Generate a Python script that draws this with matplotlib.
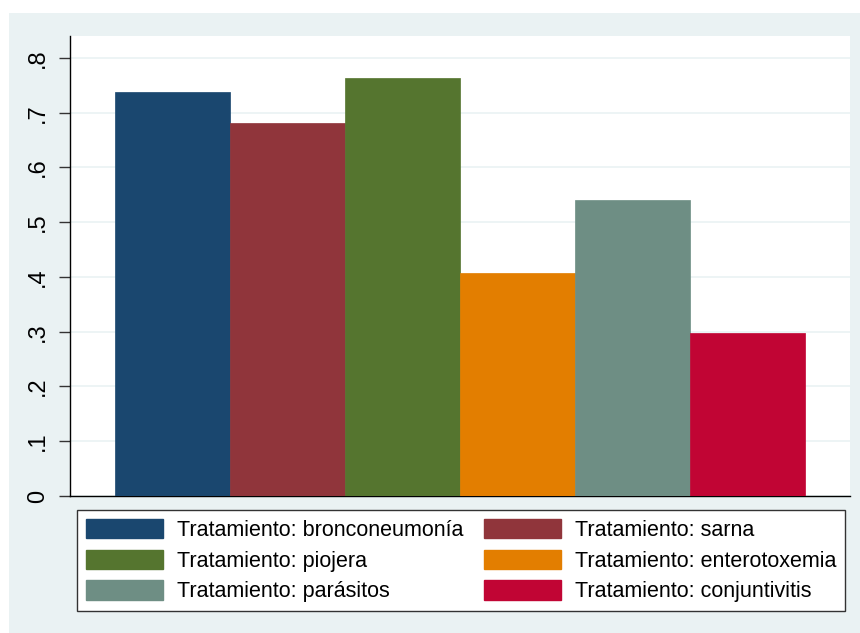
import matplotlib.pyplot as plt
from matplotlib.patches import Rectangle, Patch

plt.rcParams['font.family'] = ['Liberation Sans', 'DejaVu Sans']

# datos
tratamientos = ['bronconeumonía', 'sarna', 'piojera', 'enterotoxemia', 'parásitos', 'conjuntivitis']
valores = [0.737, 0.681, 0.764, 0.407, 0.541, 0.298]
colores = ['#1A476F', '#90353B', '#55752F', '#E37E00', '#6E8E84', '#C10534']
yticks = [0, 0.1, 0.2, 0.3, 0.4, 0.5, 0.6, 0.7, 0.8]
ytick_labels = ['0', '.1', '.2', '.3', '.4', '.5', '.6', '.7', '.8']

fig = plt.figure(figsize=(8.6, 6.33), dpi=100)
fig.patch.set_facecolor('white')
fondo = Rectangle((9 / 860, 0), 1, 620 / 633, transform=fig.transFigure,
                  facecolor='#EAF2F3', edgecolor='none', zorder=-10)
fig.add_artist(fondo)

ax = fig.add_axes([70 / 860, 1 - 496 / 633, 780 / 860, 460 / 633])
ax.set_zorder(1)
ax.set_facecolor('white')

x = list(range(len(valores)))
for i in x:
    ax.bar(i, valores[i], width=1.0, color=colores[i], edgecolor=colores[i],
           linewidth=0.5, zorder=3)

ax.set_xlim(-0.891, 5.891)
ax.set_ylim(0, 0.84)
ax.set_yticks(yticks)
ax.set_yticklabels(ytick_labels, rotation=90, va='center', fontsize=17)
ax.set_xticks([])
ax.yaxis.grid(True, color='#EAF2F3', linewidth=1.2, zorder=0)
ax.set_axisbelow(True)
ax.tick_params(axis='y', length=8, width=1, color='#333333', pad=7)

for s in ['top', 'right']:
    ax.spines[s].set_visible(False)
ax.spines['left'].set_linewidth(1)
ax.spines['bottom'].set_linewidth(1)

# leyenda en orden por filas
handles = [Patch(facecolor=c, edgecolor=c) for c in colores]
labels = ['Tratamiento: ' + t for t in tratamientos]
orden = [0, 2, 4, 1, 3, 5]
leg = fig.legend([handles[i] for i in orden], [labels[i] for i in orden],
                 ncol=2, loc='upper left', bbox_to_anchor=(77 / 860, 1 - 510 / 633),
                 fontsize=15.5, frameon=True, fancybox=False, edgecolor='#333333',
                 facecolor='white', framealpha=1,
                 handlelength=3.58, handleheight=1.0, handletextpad=0.65,
                 columnspacing=0.93, labelspacing=0.4, borderpad=0.42,
                 borderaxespad=0)
leg.get_frame().set_linewidth(1)
leg.set_zorder(5)

plt.savefig('out.png', dpi=100)
